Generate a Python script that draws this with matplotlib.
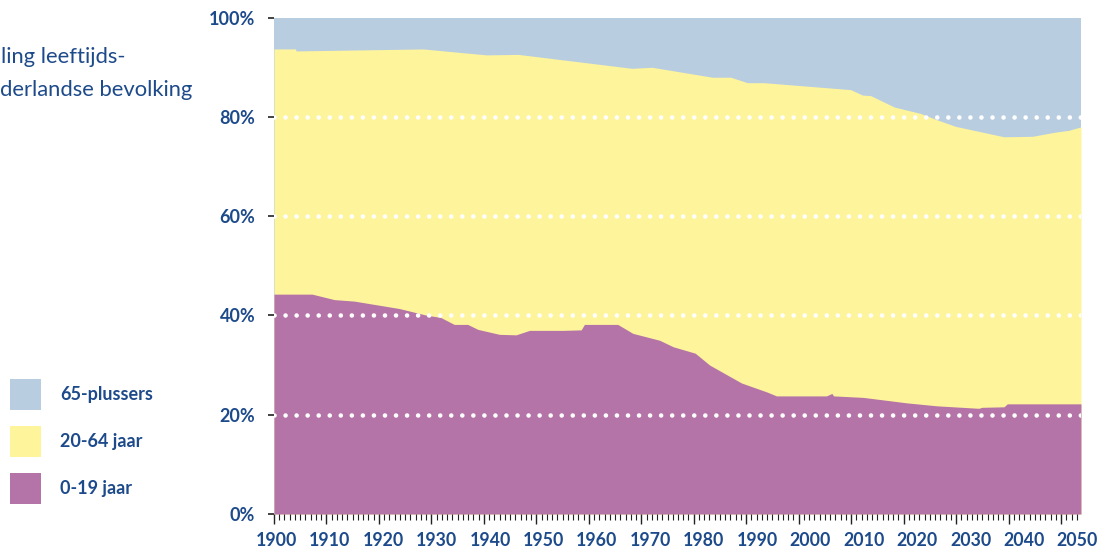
import matplotlib
matplotlib.use("Agg")
import matplotlib.pyplot as plt
from matplotlib.patches import Rectangle
from matplotlib.ticker import MultipleLocator, NullFormatter

# ---- data ----
# cumulative share of population aged 0-64 (top of yellow band), percent
years_under65 = [1900, 1904.0, 1904.1, 1927.7, 1939.5, 1945.4, 1966.5, 1970.3,
                 1981.5, 1984.9, 1988.0, 1991.1, 2007.2, 2009.4, 2010.9, 2015.3,
                 2020.2, 2023.3, 2026.7, 2035.7, 2041.0, 2045.0, 2047.7, 2050]
share_under65 = [93.7, 93.7, 93.3, 93.7, 92.5, 92.6, 89.8, 90.0,
                 88.0, 88.0, 86.9, 86.9, 85.5, 84.4, 84.3, 82.0,
                 80.7, 79.4, 78.1, 76.0, 76.1, 76.9, 77.3, 78.0]

# share of population aged 0-19, percent
years_young = [1900, 1907.1, 1911.2, 1914.9, 1923.3, 1928.2, 1931.0, 1933.5,
               1936.0, 1937.9, 1941.9, 1945.0, 1947.5, 1953.7, 1957.1, 1957.7,
               1963.9, 1966.7, 1971.7, 1974.2, 1978.3, 1981.0, 1986.9, 1991.6,
               1993.4, 2002.7, 2003.7, 2004.0, 2009.5, 2017.6, 2023.2, 2031.0,
               2031.6, 2035.7, 2036.3, 2050]
share_young = [44.3, 44.3, 43.2, 42.9, 41.4, 40.1, 39.6, 38.2,
               38.2, 37.2, 36.2, 36.1, 37.0, 37.0, 37.1, 38.2,
               38.2, 36.4, 35.0, 33.7, 32.4, 30.0, 26.4, 24.6,
               23.8, 23.8, 24.3, 23.8, 23.5, 22.4, 21.8, 21.3,
               21.5, 21.6, 22.2, 22.2]

labels = ["65-plussers", "20-64 jaar", "0-19 jaar"]
colors = ["#b9cde1", "#fef49c", "#b574a8"]
grid_levels = [20, 40, 60, 80]
y_ticks = [0, 20, 40, 60, 80, 100]
y_ticklabels = ["0%", "20%", "40%", "60%", "80%", "100%"]
x_labels = list(range(1900, 2051, 10))
title_lines = ["ling leeftijds-", "derlandse bevolking"]

TXT = "#1d4a8a"
TICK = "#222222"
plt.rcParams["font.family"] = ["Lato", "DejaVu Sans"]

W, H = 1099, 549
fig = plt.figure(figsize=(W / 100, H / 100), dpi=100)
ax = fig.add_axes([0.2493, 0.0637, 0.7343, 0.9041])

ax.fill_between([1900, 2050], 0, 100, color=colors[0], lw=0, zorder=1)
ax.fill_between(years_under65, 0, share_under65, color=colors[1], lw=0, zorder=2)
ax.fill_between(years_young, 0, share_young, color=colors[2], lw=0, zorder=3)

for lvl in grid_levels:
    ax.axhline(lvl, color="white", lw=3.3, linestyle=(0, (0.01, 2.4)),
               dash_capstyle="round", zorder=4)

ax.set_xlim(1900, 2050)
ax.set_ylim(0, 100)
for s in ax.spines.values():
    s.set_visible(False)

ax.set_yticks(y_ticks)
ax.set_yticklabels(y_ticklabels)
# year labels are spread slightly tighter than the data scale in the original
label_pos = [1900.45 + (y - 1900) * 0.9927 for y in x_labels]
ax.set_xticks(label_pos)
ax.set_xticklabels([str(y) for y in x_labels])

ax.tick_params(axis="y", length=4.5, width=1.2, color=TICK, pad=9,
               labelsize=13, labelcolor=TXT)
ax.tick_params(axis="x", which="major", length=0, pad=13,
               labelsize=12.8, labelcolor=TXT)
for lab in ax.get_xticklabels() + ax.get_yticklabels():
    lab.set_fontweight("bold")

# tick comb of the original (its own category scale, ~154 steps wide)
ax2 = ax.twiny()
ax2.set_xlim(0, 153.8)
ax2.xaxis.set_ticks_position("bottom")
ax2.xaxis.set_major_locator(MultipleLocator(10))
ax2.xaxis.set_minor_locator(MultipleLocator(1))
ax2.xaxis.set_major_formatter(NullFormatter())
ax2.tick_params(axis="x", which="major", length=7.5, width=1.0, color=TICK)
ax2.tick_params(axis="x", which="minor", length=4, width=0.8, color=TICK)
for s in ax2.spines.values():
    s.set_visible(False)

fig.text(0.001, 1 - 63 / H, title_lines[0], color=TXT, fontsize=15.8,
         ha="left", va="baseline")
fig.text(0.0, 1 - 96 / H, title_lines[1], color=TXT, fontsize=15.8,
         ha="left", va="baseline")

# legend: colour squares with bold labels
sq_tops = [379, 425.7, 472.7]
for lab, col, top in zip(labels, colors, sq_tops):
    fig.add_artist(Rectangle((10 / W, 1 - (top + 31) / H), 31 / W, 31 / H,
                             transform=fig.transFigure, color=col, lw=0))
    fig.text(60 / W, 1 - (top + 15.5) / H, lab, color=TXT, fontsize=13,
             fontweight="bold", ha="left", va="center")

fig.savefig("out.png", dpi=100)
